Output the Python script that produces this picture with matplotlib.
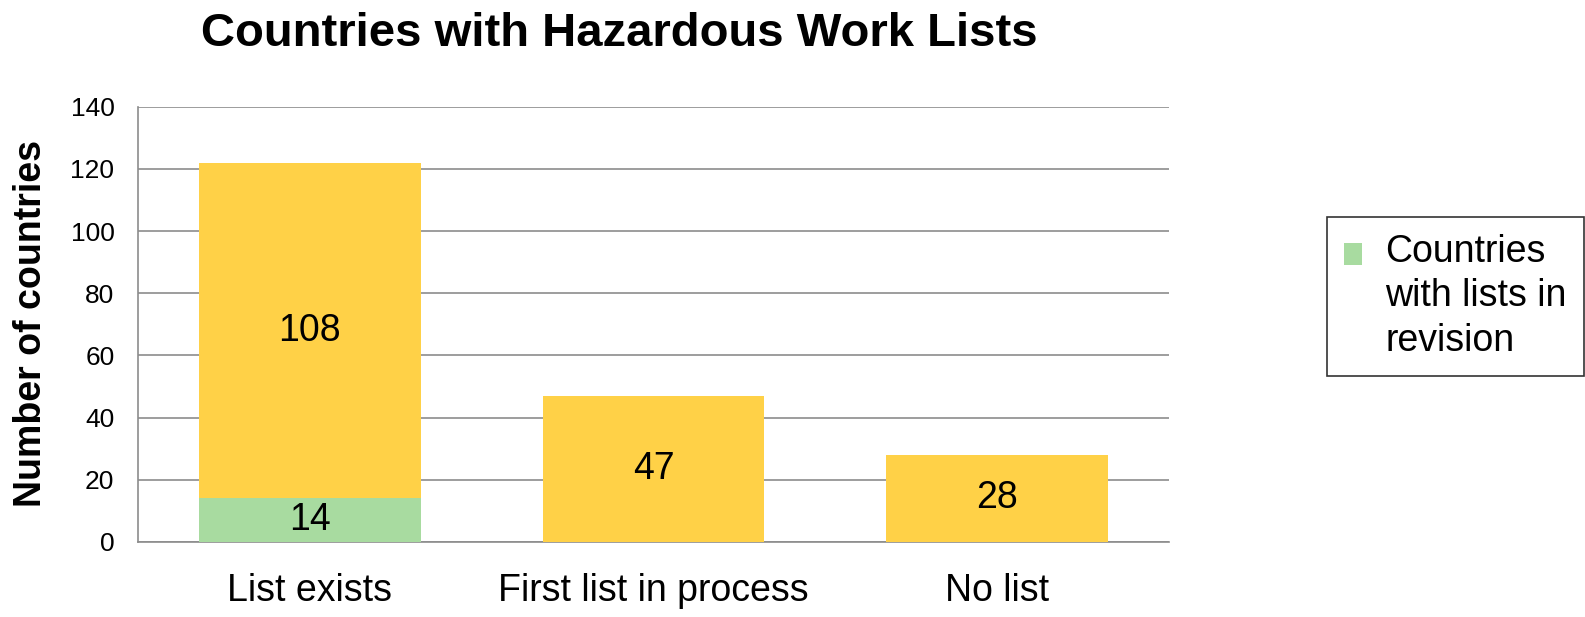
import matplotlib.pyplot as plt
import numpy as np
from matplotlib.legend_handler import HandlerPatch
from matplotlib.patches import Rectangle

plt.rcParams["font.family"] = ["Liberation Sans", "DejaVu Sans"]

categories = ["List exists", "First list in process", "No list"]
revision = [14, 0, 0]
other = [108, 47, 28]
legend_label = "Countries\nwith lists in\nrevision"

YELLOW = "#FFD147"
GREEN = "#A8DBA0"
GRID = "#8C8C8C"


def top_patch(legend, orig_handle, xdescent, ydescent, width, height, fontsize):
    # put the legend square next to the first text line, not the middle one
    return Rectangle((-xdescent, -ydescent + fontsize * 1.15), width, height)


fig = plt.figure(figsize=(15.85, 6.17), dpi=100)
ax = fig.add_axes([0.0871, 0.1216, 0.6505, 0.7054])

x = np.arange(len(categories))
width = 0.645
green_bars = ax.bar(x, revision, width, color=GREEN, zorder=3)
ax.bar(x, other, width, bottom=revision, color=YELLOW, zorder=3)

for i in range(len(categories)):
    if revision[i] > 0:
        ax.text(x[i], revision[i] / 2, str(revision[i]), ha="center", va="center", fontsize=27, zorder=4)
    ax.text(x[i], revision[i] + other[i] / 2, str(other[i]), ha="center", va="center", fontsize=27, zorder=4)

ax.set_xlim(-0.5, 2.5)
ax.set_ylim(0, 140)
ax.set_yticks(np.arange(0, 141, 20))
ax.set_xticks(x)
ax.set_xticklabels(categories, fontsize=27)
ax.tick_params(axis="x", length=0, pad=22)
ax.tick_params(axis="y", length=0, labelsize=19, pad=17)
ax.yaxis.grid(True, color=GRID, linewidth=1.2, zorder=0)
for side in ["top", "right"]:
    ax.spines[side].set_visible(False)
for side in ["left", "bottom"]:
    ax.spines[side].set_color(GRID)
    ax.spines[side].set_linewidth(1.2)

fig.text(0.0195, 0.475, "Number of countries", rotation=90, ha="center", va="center",
         fontsize=27, fontweight="bold")
fig.text(0.391, 0.926, "Countries with Hazardous Work Lists", ha="center", va="baseline",
         fontsize=34, fontweight="bold")

leg = ax.legend([green_bars.patches[0]], [legend_label],
                loc="upper left", bbox_to_anchor=(0.837, 0.648), bbox_transform=fig.transFigure,
                fontsize=27, frameon=True, fancybox=False, borderaxespad=0,
                handlelength=0.48, handleheight=0.55, handletextpad=0.64, borderpad=0.45,
                handler_map={Rectangle: HandlerPatch(patch_func=top_patch)})
for t in leg.get_texts():
    t.set_linespacing(1.3)
leg.get_frame().set_edgecolor("black")
leg.get_frame().set_linewidth(1.2)

fig.savefig("out.png", dpi=100)
